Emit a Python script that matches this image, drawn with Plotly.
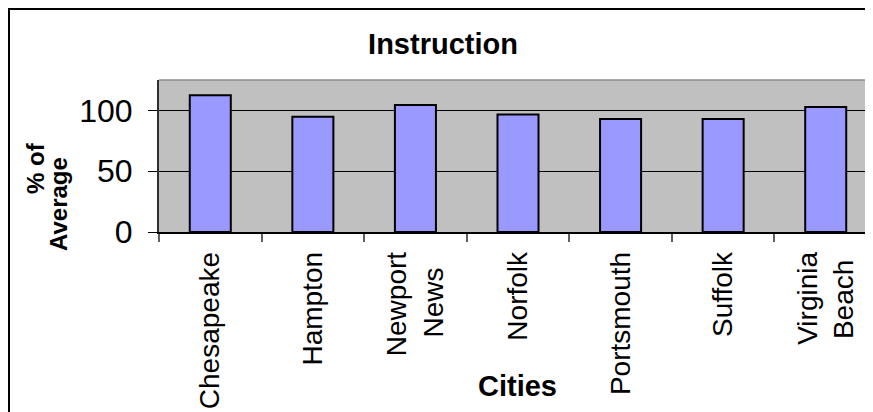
import plotly.graph_objects as go

NB = "\u00a0"
cities = ["Chesapeake", "Hampton", "Newport<br>News" + NB * 2, "Norfolk", "Portsmouth", "Suffolk",
          "Virginia<br>Beach" + NB]
pct_of_average = [112.5, 94.7, 104.5, 96.6, 93.0, 93.0, 102.8]
y_ticks = [0, 50, 100]

FONT = "Liberation Sans, Arial, sans-serif"

fig = go.Figure()
fig.add_trace(go.Bar(
    x=cities, y=pct_of_average,
    marker=dict(color="#9999FF", line=dict(color="black", width=2)),
    hoverinfo="y",
))

W, H = 873, 412
L, R, T, B = 151, 4, 72, 188
fig.update_layout(
    width=W, height=H,
    margin=dict(l=L, r=R, t=T, b=B, pad=0),
    paper_bgcolor="white",
    plot_bgcolor="#C0C0C0",
    bargap=0.6,
    showlegend=False,
    font=dict(family=FONT, color="black"),
    title=dict(text="<b>Instruction</b>", font=dict(size=29, family=FONT, color="black"),
               x=435 / W, xanchor="center", xref="container",
               y=1 - 36 / H, yanchor="middle", yref="container"),
)
fig.update_xaxes(
    type="category", range=[-0.5, 6.5],
    tickangle=-90, tickfont=dict(size=28, family=FONT, color="black"),
    ticks="outside", ticklen=8, tickcolor="#606060", tickwidth=1.5,
    tickson="boundaries", ticklabelstandoff=7,
    showline=True, linecolor="black", linewidth=1.5,
    showgrid=False, zeroline=False,
)
fig.update_yaxes(
    range=[0, 125], tickvals=y_ticks,
    tickfont=dict(size=32, family=FONT, color="black"),
    ticks="outside", ticklen=9, tickcolor="black", tickwidth=1,
    showline=True, linecolor="#303030", linewidth=2,
    showgrid=True, gridcolor="black", gridwidth=1,
    zeroline=False, ticklabelstandoff=9,
)

plot_w = W - L - R
plot_h = H - T - B
def px_x(px):
    return (px - L) / plot_w
def px_y(py):
    return (H - B - py) / plot_h

# top border of plot area (light gray)
fig.add_shape(type="line", xref="paper", yref="paper", x0=0, x1=1.01, y0=1, y1=1,
              line=dict(color="#8C8C8C", width=1.5))
# outer chart border
fig.add_shape(type="rect", xref="paper", yref="paper",
              x0=px_x(1), x1=px_x(W + 20), y0=px_y(H + 20), y1=px_y(1),
              line=dict(color="black", width=2), layer="above")

fig.add_annotation(text="<b>% of</b>", textangle=-90, xref="paper", yref="paper",
                   x=px_x(27), y=px_y(160), xanchor="center", yanchor="middle",
                   showarrow=False, font=dict(size=24, family=FONT, color="black"))
fig.add_annotation(text="<b>Average</b>", textangle=-90, xref="paper", yref="paper",
                   x=px_x(50), y=px_y(196), xanchor="center", yanchor="middle",
                   showarrow=False, font=dict(size=24, family=FONT, color="black"))
fig.add_annotation(text="<b>Cities</b>", xref="paper", yref="paper",
                   x=px_x(509), y=px_y(378), xanchor="center", yanchor="middle",
                   showarrow=False, font=dict(size=29, family=FONT, color="black"))

fig.write_html("out.html")
